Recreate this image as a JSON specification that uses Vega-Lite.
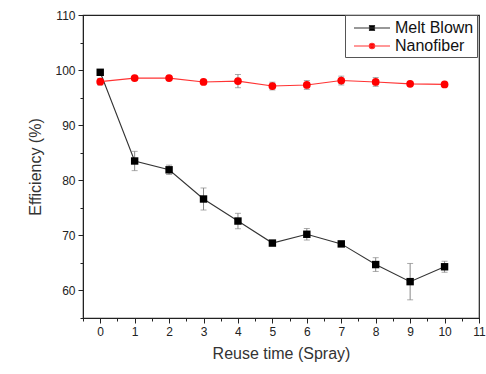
{
  "$schema": "https://vega.github.io/schema/vega-lite/v6.json",
  "width": 396,
  "height": 303,
  "autosize": {"type": "none"},
  "padding": {"left": 83, "top": 15, "right": 7, "bottom": 56},
  "background": "white",
  "config": {
    "font": "Liberation Sans",
    "view": {"stroke": "#222", "strokeWidth": 1.2}
  },
  "data": {
    "values": [
      {"x": 0, "series": "Melt Blown", "y": 99.6, "err": 0.2},
      {"x": 1, "series": "Melt Blown", "y": 83.5, "err": 1.75},
      {"x": 2, "series": "Melt Blown", "y": 81.9, "err": 0.85},
      {"x": 3, "series": "Melt Blown", "y": 76.6, "err": 2.0},
      {"x": 4, "series": "Melt Blown", "y": 72.6, "err": 1.4},
      {"x": 5, "series": "Melt Blown", "y": 68.6, "err": 0.3},
      {"x": 6, "series": "Melt Blown", "y": 70.2, "err": 1.05},
      {"x": 7, "series": "Melt Blown", "y": 68.45, "err": 0.3},
      {"x": 8, "series": "Melt Blown", "y": 64.7, "err": 1.25},
      {"x": 9, "series": "Melt Blown", "y": 61.6, "err": 3.3},
      {"x": 10, "series": "Melt Blown", "y": 64.3, "err": 1.0},
      {"x": 0, "series": "Nanofiber", "y": 97.9, "err": 0.6},
      {"x": 1, "series": "Nanofiber", "y": 98.55, "err": 0.3},
      {"x": 2, "series": "Nanofiber", "y": 98.55, "err": 0.3},
      {"x": 3, "series": "Nanofiber", "y": 97.85, "err": 0.3},
      {"x": 4, "series": "Nanofiber", "y": 98.0, "err": 1.2},
      {"x": 5, "series": "Nanofiber", "y": 97.1, "err": 0.7},
      {"x": 6, "series": "Nanofiber", "y": 97.3, "err": 0.8},
      {"x": 7, "series": "Nanofiber", "y": 98.1, "err": 0.8},
      {"x": 8, "series": "Nanofiber", "y": 97.85, "err": 0.8},
      {"x": 9, "series": "Nanofiber", "y": 97.5, "err": 0.3},
      {"x": 10, "series": "Nanofiber", "y": 97.4, "err": 0.3}
    ]
  },
  "encoding": {
    "x": {
      "field": "x", "type": "quantitative",
      "scale": {"domain": [-0.5, 11], "nice": false, "zero": false},
      "axis": {
        "title": "Reuse time (Spray)",
        "titleFontSize": 16, "titleFontWeight": "normal", "titleColor": "#333", "titlePadding": 8,
        "values": [-0.5, 0, 0.5, 1, 1.5, 2, 2.5, 3, 3.5, 4, 4.5, 5, 5.5, 6, 6.5, 7, 7.5, 8, 8.5, 9, 9.5, 10, 10.5, 11],
        "labelExpr": "datum.value % 1 === 0 ? format(datum.value, 'd') : ''",
        "labelFontSize": 12, "labelColor": "#222", "labelPadding": 3,
        "tickSize": {"condition": {"test": "datum.value % 1 === 0", "value": 5}, "value": 3},
        "tickColor": "#222", "domainColor": "#222", "grid": false, "labelFlush": false, "labelOverlap": false
      }
    },
    "y": {
      "field": "y", "type": "quantitative",
      "scale": {"domain": [55, 110], "nice": false, "zero": false},
      "axis": {
        "title": "Efficiency (%)",
        "titleFontSize": 16, "titleFontWeight": "normal", "titleColor": "#333", "titlePadding": 11,
        "values": [55, 60, 65, 70, 75, 80, 85, 90, 95, 100, 105, 110],
        "labelExpr": "datum.value % 10 === 0 ? format(datum.value, 'd') : ''",
        "labelFontSize": 12, "labelColor": "#222", "labelPadding": 3,
        "tickSize": {"condition": {"test": "datum.value % 10 === 0", "value": 5}, "value": 3},
        "tickColor": "#222", "domainColor": "#222", "grid": false, "labelOverlap": false
      }
    }
  },
  "layer": [
    {
      "mark": {"type": "errorbar", "ticks": {"color": "#888", "size": 6}, "rule": {"color": "#888", "strokeWidth": 1}},
      "encoding": {
        "y": {"field": "y", "type": "quantitative"},
        "yError": {"field": "err"},
        "detail": {"field": "series"}
      }
    },
    {
      "mark": {"type": "line", "strokeWidth": 1.1},
      "encoding": {
        "color": {
          "field": "series", "type": "nominal",
          "scale": {"domain": ["Melt Blown", "Nanofiber"], "range": ["#333333", "#ff3333"]},
          "legend": {
            "title": null,
            "orient": "none",
            "legendX": 262,
            "legendY": 0,
            "padding": 3,
            "strokeColor": "#555",
            "fillColor": "white",
            "labelFontSize": 16,
            "labelColor": "#111",
            "symbolSize": 324,
            "symbolStrokeWidth": 1.1,
            "symbolOffset": 14,
            "rowPadding": 0,
            "labelOffset": 13,
            "encode": {
              "symbols": {
                "update": {
                  "shape": {"signal": "datum.value === 'Melt Blown' ? 'M-2,0H2M-0.28,-0.28H0.28V0.28H-0.28Z' : 'M-2,0H2M-0.3,0A0.3,0.3 0 1,1 0.3,0A0.3,0.3 0 1,1 -0.3,0Z'"},
                  "fill": {"signal": "datum.value === 'Melt Blown' ? '#000' : '#ff0000'"},
                  "fillOpacity": {"value": 1}
                }
              }
            }
          }
        }
      }
    },
    {
      "transform": [{"filter": "datum.series === 'Melt Blown'"}],
      "mark": {"type": "point", "filled": true, "opacity": 1, "shape": "square", "color": "#000000", "size": 55}
    },
    {
      "transform": [{"filter": "datum.series === 'Nanofiber'"}],
      "mark": {"type": "point", "filled": true, "opacity": 1, "shape": "circle", "color": "#ff0000", "size": 60}
    }
  ]
}
